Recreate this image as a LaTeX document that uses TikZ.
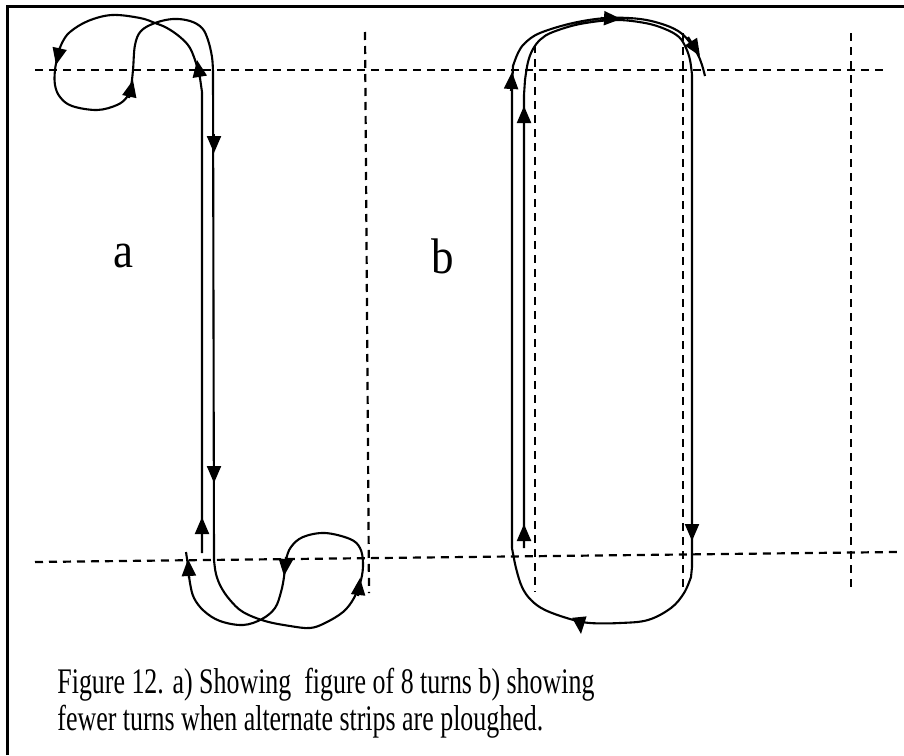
\documentclass[tikz,border=0pt]{standalone}
\usepackage{fontspec}
\newfontfamily\capfont[FakeStretch=0.72]{Liberation Serif}
\newfontfamily\lblfont[FakeStretch=0.9]{Liberation Serif}
\usetikzlibrary{arrows.meta}

\begin{document}
\begin{tikzpicture}[x=0.5pt,y=-0.5pt,
  track/.style={line width=1.05pt,line join=round},
  tip/.style={track,-{Triangle[length=8.5pt,width=7pt]}},
  strip/.style={line width=1.1pt,dash pattern=on 4pt off 3pt},
  frameline/.style={line width=1.5pt},
  lbl/.style={font=\lblfont\fontsize{25}{29}\selectfont,inner sep=0pt},
  captext/.style={font=\capfont\fontsize{18}{21}\selectfont,inner sep=0pt}]
  \useasboundingbox (0,0) rectangle (904,755);
  \draw[frameline] (7,755) -- (7,6) -- (904,6);
  % headland and strip edges
  \draw[strip] (35,70) -- (883,70);
  \draw[strip] (35,562) -- (897,552);
  \draw[strip] (365,32) -- (369,593);
  \draw[strip] (535,45) -- (535,592);
  \draw[strip] (683,33) -- (683,588);
  \draw[strip] (851,33) -- (851,587);
  % a) figure of 8 turns
  \draw[track] (202,553) -- (202,92) -- plot[smooth,tension=0.6] coordinates {(200,78) (197,66) (190,48) (180,37) (167,28) (155,23) (140,18) (112,15) (88,21) (70,32) (62,43) (58,55) (55,70) (55,85) (60,97) (72,106) (97,110) (117,105) (127,97) (131,86) (133,70) (135,45) (141,31) (155,23) (173,19) (190,21) (202,28) (208,40) (212,57) (213,72)} -- (214,560)
    -- plot[smooth,tension=0.6] coordinates {(214,560) (216,574) (221,587) (230,600) (243,612) (265,621) (290,626) (310,628) (325,623) (343,612) (354,598) (361,580) (363,563) (360,548) (350,539) (325,533) (303,537) (291,547) (286,560) (284,577) (281,592) (275,608) (262,619) (243,625) (220,621) (204,611) (194,598) (190,583) (188,566) (186,552)};
  \draw[tip] (200,78) -- (197,60);
  \draw[tip] (60,47) -- (56,65);
  \draw[tip] (129,98) -- (133,80);
  \draw[tip] (214,134) -- (214,153);
  \draw[tip] (214,464) -- (214,483);
  \draw[tip] (202,536) -- (202,517);
  \draw[tip] (358,596) -- (360,578);
  \draw[tip] (286,557) -- (284,576);
  \draw[tip] (189,578) -- (188,559);
  % b) alternate strips
  \draw[track] (524,548) -- (524,95) -- plot[smooth,tension=0.6] coordinates {(525,80) (528,62) (533,49) (541,39) (553,32) (580,24) (615,20) (645,23) (665,29) (679,37) (686,48) (690,60) (692,75)} -- (692,567)
    -- plot[smooth,tension=0.6] coordinates {(691,577) (684,593) (671,608) (648,620) (620,623) (590,623) (570,619) (545,610) (531,600) (522,587) (516,568) (512,548)} -- (512,90)
    -- plot[smooth,tension=0.6] coordinates {(513,66) (518,53) (525,43) (540,33) (573,23) (607,18) (640,19) (665,25) (681,33) (691,44) (698,55) (702,65) (705,76)};
  \draw[tip] (524,543) -- (524,524);
  \draw[tip] (524,125) -- (524,106);
  \draw[tip] (511,91) -- (512,72);
  \draw[tip] (601,18) -- (621,19);
  \draw[tip] (688,37) -- (700,56);
  \draw[tip] (692,521) -- (692,541);
  \draw[tip] (580,624) -- (581,634);
  % labels
  \node[lbl,anchor=base] (lbla) at (123,267) {a};
  \node[lbl,anchor=base] (lblb) at (443,273) {b};
  \node[captext,anchor=base west] (cap1) at (57,693) {Figure 12. a) Showing\ \ figure of 8 turns b) showing};
  \node[captext,anchor=base west] (cap2) at (57,730) {fewer turns when alternate strips are ploughed.};
\end{tikzpicture}
\end{document}
